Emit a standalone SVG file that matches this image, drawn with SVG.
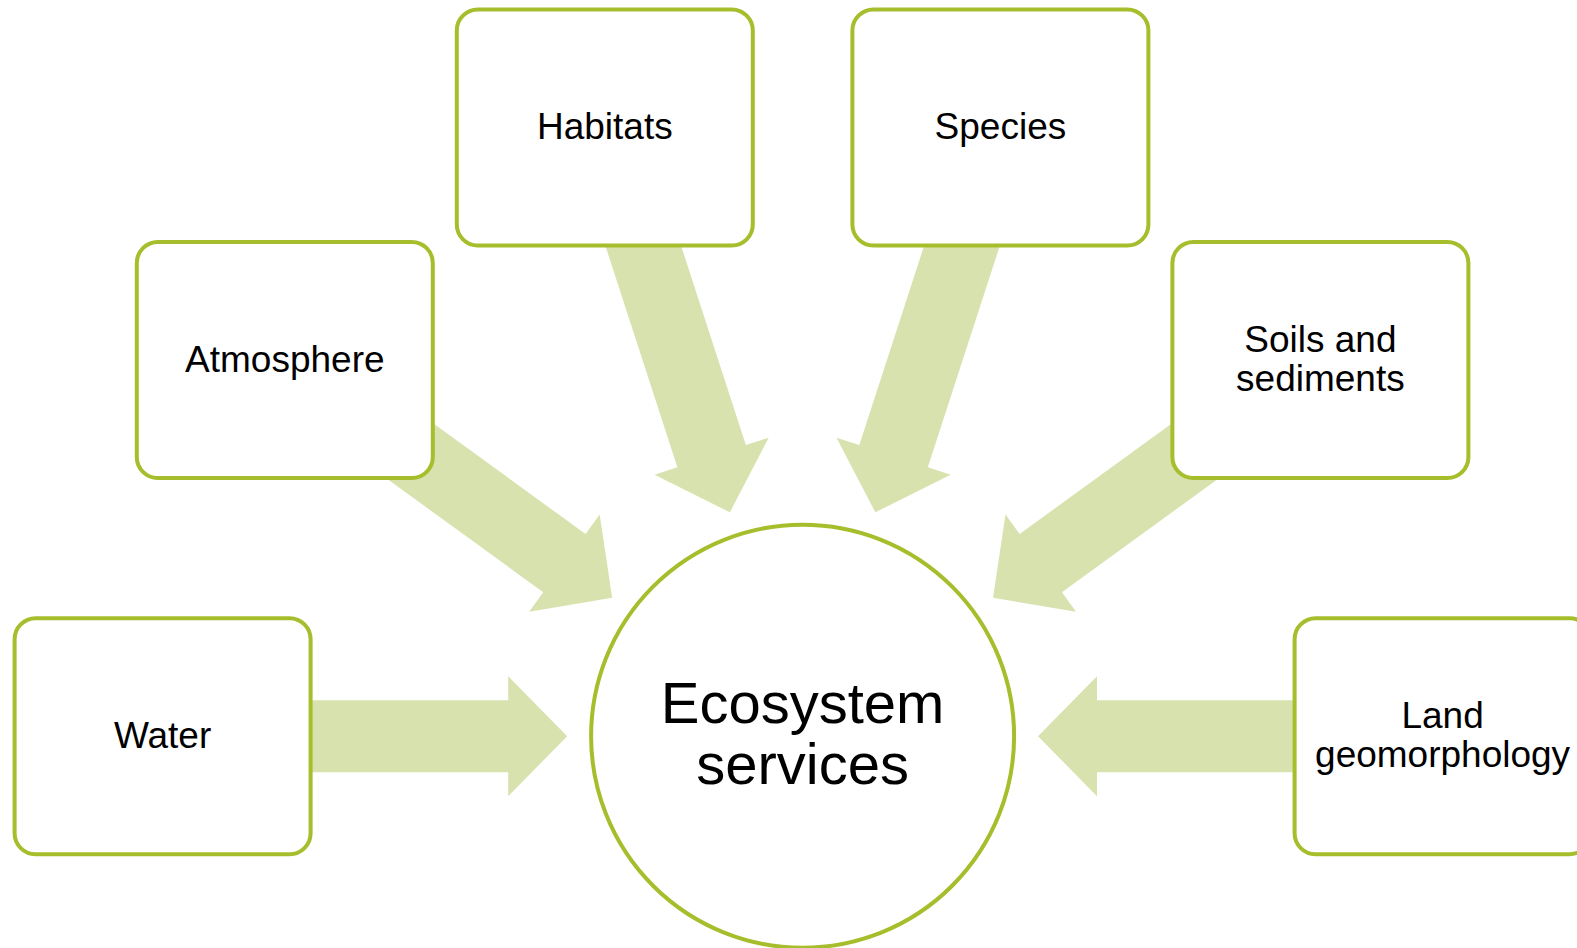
<svg xmlns="http://www.w3.org/2000/svg" width="1577" height="948" viewBox="0 0 1577 948">
<style>
.box{fill:#FFFFFF;stroke:#A6BE2C;stroke-width:4}
.arr{fill:#D8E2AE;stroke:none}
.lbl{font-family:"Liberation Sans",Arial,sans-serif;font-size:37px;fill:#000;text-anchor:middle}
.big{font-family:"Liberation Sans",Arial,sans-serif;font-size:58px;fill:#000;text-anchor:middle}
</style>
<defs>
<path id="arrow" d="M -235.4 0 L -294.4 -60 L -294.4 -36 L -560 -36 L -560 36 L -294.4 36 L -294.4 60 Z"/>
</defs>
<rect width="1577" height="948" fill="#FFFFFF"/>
<g id="connectors">
<use href="#arrow" class="arr" transform="translate(802.6 736.2) rotate(0)"/>
<use href="#arrow" class="arr" transform="translate(802.6 736.2) rotate(36)"/>
<use href="#arrow" class="arr" transform="translate(802.6 736.2) rotate(72)"/>
<use href="#arrow" class="arr" transform="translate(802.6 736.2) rotate(108)"/>
<use href="#arrow" class="arr" transform="translate(802.6 736.2) rotate(144)"/>
<use href="#arrow" class="arr" transform="translate(802.6 736.2) rotate(180)"/>
</g>
<g id="center">
<circle class="box" cx="802.6" cy="736.2" r="211.5"/>
<text class="big" x="802.6" y="723">Ecosystem</text>
<text class="big" x="802.6" y="784">services</text>
</g>
<g id="water">
<rect class="box" x="14.6" y="618.2" width="296" height="236" rx="21"/>
<text class="lbl" x="162.6" y="747.5">Water</text>
</g>
<g id="atmosphere">
<rect class="box" x="136.8" y="242" width="296" height="236" rx="21"/>
<text class="lbl" x="284.8" y="371.5">Atmosphere</text>
</g>
<g id="habitats">
<rect class="box" x="456.8" y="9.5" width="296" height="236" rx="21"/>
<text class="lbl" x="604.8" y="139">Habitats</text>
</g>
<g id="species">
<rect class="box" x="852.4" y="9.5" width="296" height="236" rx="21"/>
<text class="lbl" x="1000.4" y="139">Species</text>
</g>
<g id="soils">
<rect class="box" x="1172.4" y="242" width="296" height="236" rx="21"/>
<text class="lbl" x="1320.4" y="352">Soils and</text>
<text class="lbl" x="1320.4" y="390.5">sediments</text>
</g>
<g id="land">
<rect class="box" x="1294.6" y="618.2" width="296" height="236" rx="21"/>
<text class="lbl" x="1442.6" y="728">Land</text>
<text class="lbl" x="1442.6" y="766.5">geomorphology</text>
</g>
</svg>
